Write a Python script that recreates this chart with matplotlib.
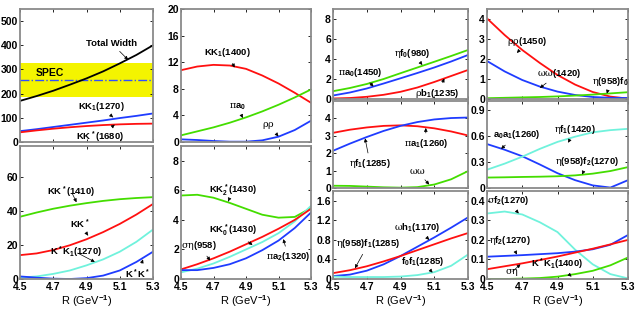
import matplotlib.pyplot as plt

plt.rcParams.update({
    "font.family": ["Liberation Sans", "DejaVu Sans"],
    "font.weight": "bold",
    "mathtext.fontset": "custom",
    "mathtext.rm": "Liberation Sans:bold",
    "mathtext.bf": "Liberation Sans:bold",
    "mathtext.it": "DejaVu Serif:weight=normal:style=normal",
    "mathtext.default": "rm",
})

RED, BLUE, GREEN, CYAN = "#ff1010", "#1f3cff", "#44dd00", "#70f2dc"

R = [4.5, 4.6, 4.7, 4.8, 4.9, 5.0, 5.1, 5.2, 5.3]

# column 1, top (MeV)
total_width = [170, 190, 212, 237, 263, 292, 325, 360, 400]
kk1_1270 = [45, 53, 62, 71, 80, 89, 99, 108, 118]
kkst_1680 = [40, 48, 55, 61, 66, 70, 73, 75, 76]
spec_low, spec_high, spec_mid = 185, 328, 256

# column 1, bottom
kkst_1410 = [36.5, 39, 41.2, 43, 44.5, 45.8, 46.8, 47.5, 48]
kkst = [14, 15, 17, 19.8, 23.3, 27.5, 32.3, 37.8, 44]
kstk1_1270 = [0.8, 1.5, 3, 5, 8, 11.5, 16, 21.8, 29]
kstkst = [1.5, 0.8, 0.2, 0, 0.5, 2, 5, 10, 16]

# column 2, top
kk1_1400 = [10.8, 11.35, 11.6, 11.5, 11.0, 10.0, 8.8, 7.4, 5.9]
pia0 = [1.0, 1.6, 2.2, 2.9, 3.7, 4.6, 5.6, 6.7, 7.9]
rhorho = [0.4, 0.3, 0.15, 0.05, 0.05, 0.25, 0.8, 1.8, 3.2]

# column 2, bottom
kk2_1430 = [5.65, 5.7, 5.5, 5.15, 4.75, 4.35, 4.15, 4.2, 4.8]
kk0_1430 = [0.65, 1.0, 1.4, 1.85, 2.35, 2.85, 3.4, 4.0, 4.75]
sigeta958 = [0.45, 0.7, 1.05, 1.5, 2.0, 2.5, 3.1, 3.9, 4.95]
pia2_1320 = [0.6, 0.6, 0.75, 1.0, 1.4, 1.95, 2.6, 3.45, 4.5]

# column 3
etaf0_980 = [0.78, 1.1, 1.5, 2.0, 2.58, 3.15, 3.72, 4.3, 4.9]
pia0_1450 = [0.35, 0.65, 1.05, 1.55, 2.07, 2.6, 3.15, 3.75, 4.4]
rhob1_1235 = [0.05, 0.1, 0.22, 0.42, 0.72, 1.15, 1.7, 2.3, 2.9]

pia1_1260 = [3.17, 3.35, 3.48, 3.57, 3.6, 3.55, 3.43, 3.25, 3.02]
etaf1_1285 = [2.14, 2.55, 2.93, 3.28, 3.57, 3.79, 3.94, 4.02, 4.05]
omom = [0.13, 0.12, 0.08, 0.04, 0.02, 0.05, 0.2, 0.5, 0.97]

omh1_1170 = [0.06, 0.09, 0.17, 0.3, 0.47, 0.66, 0.85, 1.05, 1.26]
eta958f1_1285 = [0.12, 0.18, 0.26, 0.36, 0.47, 0.59, 0.71, 0.83, 0.94]
f0f1_1285 = [0.05, 0.04, 0.04, 0.04, 0.05, 0.08, 0.14, 0.27, 0.5]

# column 4
rhorho_1450 = [4.03, 3.2, 2.45, 1.8, 1.2, 0.72, 0.35, 0.12, 0.02]
omom_1420 = [1.9, 1.38, 0.95, 0.62, 0.37, 0.2, 0.1, 0.06, 0.05]
eta958f0 = [0.04, 0.06, 0.08, 0.1, 0.13, 0.17, 0.22, 0.28, 0.34]

a0a1_1260 = [0.505, 0.44, 0.365, 0.27, 0.17, 0.09, 0.03, 0.005, 0.09]
etaf1_1420 = [0.21, 0.28, 0.36, 0.45, 0.53, 0.59, 0.64, 0.665, 0.68]
eta958f2_1270 = [0.12, 0.123, 0.127, 0.13, 0.135, 0.145, 0.165, 0.195, 0.24]

sigf2_1270 = [0.335, 0.345, 0.33, 0.29, 0.24, 0.15, 0.075, 0.025, 0.003]
etaf2_1270 = [0.114, 0.118, 0.122, 0.127, 0.132, 0.14, 0.152, 0.175, 0.225]
sigeta = [0.05, 0.065, 0.08, 0.097, 0.115, 0.135, 0.155, 0.177, 0.2]
kstk1_1400 = [0.0, 0.0, 0.002, 0.005, 0.012, 0.025, 0.042, 0.07, 0.11]

W, H = 641, 309
fig = plt.figure(figsize=(W / 100, H / 100), dpi=100)


def make_ax(x0, x1, y0, y1):
    ax = fig.add_axes([x0 / W, 1 - y1 / H, (x1 - x0) / W, (y1 - y0) / H])
    ax.px_height = y1 - y0
    return ax


def g(ch):
    return r"$\mathit{\%s}$" % ch


def style(ax, ylim, yticks, xlabels):
    ax.set_xlim(4.5, 5.3)
    ax.set_ylim(*ylim)
    ax.set_xticks([4.5, 4.7, 4.9, 5.1, 5.3])
    ax.set_yticks(yticks)
    ax.set_yticklabels(["%g" % t for t in yticks])
    ax.tick_params(direction="in", top=True, right=True, length=2.5, width=0.6,
                   labelsize=7.5, pad=1.5)
    ax.tick_params(axis="x", pad=2.4)
    for sp in ax.spines.values():
        sp.set_color("#8a8a8a")
        sp.set_linewidth(1.3)
    if xlabels:
        ax.set_xlabel(r"R (GeV$^{-1}$)", fontsize=8)
        ax.xaxis.set_label_coords(0.5, -14.0 / ax.px_height)
    else:
        ax.set_xticklabels([])


def draw(ax, curves, notes):
    for ys, c in curves:
        ax.plot(R, ys, color=c, lw=1.3)
    for label, txy, pxy in notes:
        ax.annotate(label, xy=pxy, xytext=txy, ha="center", va="center", fontsize=6.8,
                    arrowprops=dict(arrowstyle="-|>", color="k", lw=0.5,
                                    mutation_scale=5, shrinkA=1, shrinkB=0))


# column 1
ax = make_ax(20, 153, 9, 142)
ax.axhspan(spec_low, spec_high, color="#f4f400", lw=0)
ax.axhline(spec_mid, color="#3050ff", lw=1.0, ls="-.")
ax.text(4.68, 285, "SPEC", ha="center", va="center", fontsize=7.5)
draw(ax, [(total_width, "k"), (kk1_1270, BLUE), (kkst_1680, RED)],
     [("Total Width", (5.05, 409), (5.15, 340)),
      (r"KK$_1$(1270)", (4.99, 145), (5.06, 102)),
      (r"KK$^*$(1680)", (4.98, 21), (5.07, 72))])
style(ax, (0, 550), [0, 100, 200, 300, 400, 500], False)

ax = make_ax(20, 153, 146, 279)
draw(ax, [(kkst_1410, GREEN), (kkst, RED), (kstk1_1270, CYAN), (kstkst, BLUE)],
     [(r"KK$^*$(1410)", (4.81, 51), (4.84, 45)),
      (r"KK$^*$", (4.86, 32), (4.91, 25.5)),
      (r"K$^*$K$_1$(1270)", (4.84, 15.6), (4.95, 10)),
      (r"K$^*$K$^*$", (5.21, 3), (5.24, 11.5))])
style(ax, (0, 78), [0, 20, 40, 60], True)

# column 2
ax = make_ax(181, 311, 9, 142)
draw(ax, [(kk1_1400, RED), (pia0, GREEN), (rhorho, BLUE)],
     [(r"KK$_1$(1400)", (4.785, 13.4), (4.83, 11.2)),
      (g("pi") + r"a$_0$", (4.85, 5.3), (4.88, 3.6)),
      (g("rho") + g("rho"), (5.04, 2.5), (5.1, 0.85))])
style(ax, (0, 20), [0, 4, 8, 12, 16, 20], False)

ax = make_ax(181, 311, 146, 279)
draw(ax, [(kk2_1430, GREEN), (sigeta958, CYAN), (kk0_1430, RED), (pia2_1320, BLUE)],
     [(r"KK$_2^*$(1430)", (4.82, 6.0), (4.79, 5.25)),
      (r"KK$_0^*$(1430)", (4.82, 3.3), (4.94, 2.3)),
      (g("sigma") + g("eta") + "(958)", (4.61, 2.25), (4.68, 1.25)),
      (g("pi") + r"a$_2$(1320)", (5.16, 1.5), (5.13, 2.7))])
style(ax, (0, 9), [0, 2, 4, 6, 8], True)

# column 3
ax = make_ax(333, 468, 9, 99)
draw(ax, [(etaf0_980, GREEN), (pia0_1450, BLUE), (rhob1_1235, RED)],
     [(g("eta") + r"f$_0$(980)", (4.97, 4.6), (5.03, 3.4)),
      (g("pi") + r"a$_0$(1450)", (4.66, 2.65), (4.74, 1.25)),
      (g("rho") + r"b$_1$(1235)", (5.12, 0.6), (5.16, 2.05))])
style(ax, (0, 9), [0, 2, 4, 6, 8], False)

ax = make_ax(333, 468, 101, 188)
draw(ax, [(pia1_1260, RED), (etaf1_1285, BLUE), (omom, GREEN)],
     [(g("eta") + r"f$_1$(1285)", (4.72, 1.4), (4.69, 2.85)),
      (g("pi") + r"a$_1$(1260)", (5.05, 2.55), (5.05, 3.45)),
      (g("omega") + g("omega"), (5.0, 0.95), (5.07, 0.2))])
style(ax, (0, 5), [0, 1, 2, 3, 4], False)

ax = make_ax(333, 468, 191, 279)
draw(ax, [(omh1_1170, BLUE), (eta958f1_1285, RED), (f0f1_1285, CYAN)],
     [(g("omega") + r"h$_1$(1170)", (5.0, 1.05), (5.07, 0.8)),
      (g("eta") + r"(958)f$_1$(1285)", (4.71, 0.72), (4.63, 0.22)),
      (r"f$_0$f$_1$(1285)", (5.03, 0.36), (5.09, 0.13))])
style(ax, (0, 1.8), [0, 0.4, 0.8, 1.2, 1.6], True)

# column 4
ax = make_ax(487, 628, 9, 99)
draw(ax, [(rhorho_1450, RED), (omom_1420, BLUE), (eta958f0, GREEN)],
     [(g("rho") + g("rho") + "(1450)", (4.73, 2.9), (4.67, 2.3)),
      (g("omega") + g("omega") + "(1420)", (4.91, 1.3), (4.8, 0.55)),
      (g("eta") + r"(958)f$_0$", (5.2, 0.87), (5.18, 0.27))])
style(ax, (0, 4.5), [0, 1, 2, 3, 4], False)

ax = make_ax(487, 628, 101, 188)
draw(ax, [(a0a1_1260, BLUE), (etaf1_1420, CYAN), (eta958f2_1270, GREEN)],
     [(r"a$_0$a$_1$(1260)", (4.67, 0.61), (4.58, 0.45)),
      (g("eta") + r"f$_1$(1420)", (5.0, 0.67), (4.96, 0.52)),
      (g("eta") + r"(958)f$_2$(1270)", (5.07, 0.3), (5.04, 0.155))])
style(ax, (0, 1), [0, 0.3, 0.6, 0.9], False)

ax = make_ax(487, 628, 191, 279)
draw(ax, [(sigf2_1270, CYAN), (etaf2_1270, BLUE), (sigeta, RED), (kstk1_1400, GREEN)],
     [(g("sigma") + r"f$_2$(1270)", (4.62, 0.4), (4.68, 0.335)),
      (g("eta") + r"f$_2$(1270)", (4.63, 0.195), (4.67, 0.125)),
      (g("sigma") + g("eta"), (4.64, 0.035), (4.69, 0.075)),
      (r"K$^*$K$_1$(1400)", (4.9, 0.074), (4.98, 0.012))])
style(ax, (0, 0.45), [0, 0.1, 0.2, 0.3, 0.4], True)

fig.savefig("out.png", dpi=100)
